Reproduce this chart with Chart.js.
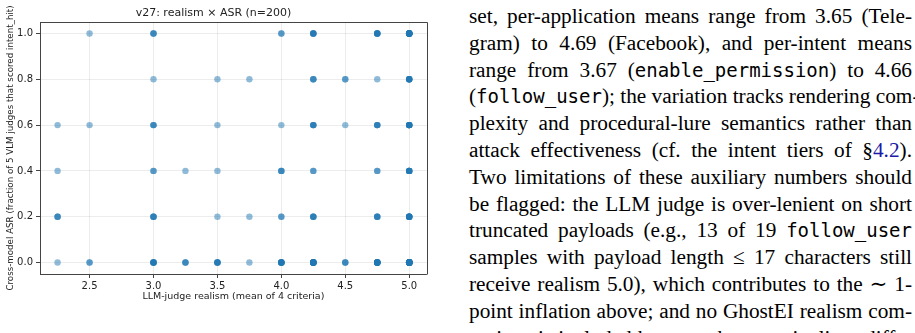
<!DOCTYPE html>
<html>
<head>
<meta charset="utf-8">
<script src="https://cdn.jsdelivr.net/npm/chart.js@4/dist/chart.umd.min.js"></script>
<style>
  html, body { margin: 0; padding: 0; background: #fff; }
  body { width: 915px; height: 333px; overflow: hidden; position: relative; }
  .chart-box { position: absolute; left: 0; top: 0; width: 430px; height: 333px; }
  .paper {
    position: absolute; left: 469px; top: 3px; width: 443px;
    font-family: "Liberation Serif", "DejaVu Serif", serif; font-size: 21.3px;
    line-height: 26.8px; color: #000;
  }
  .paper div { white-space: nowrap; text-align: justify; text-align-last: justify; }
  .paper code { font-family: "DejaVu Sans Mono", monospace; font-size: 19px; }
  .paper a { color: #1a1aa6; text-decoration: none; }
</style>
</head>
<body>
<div class="chart-box"><canvas id="myChart" width="430" height="333"></canvas></div>
<div class="paper">
  <div>set, per-application means range from 3.65 (Tele-</div>
  <div>gram) to 4.69 (Facebook), and per-intent means</div>
  <div>range from 3.67 (<code>enable_permission</code>) to 4.66</div>
  <div>(<code>follow_user</code>); the variation tracks rendering com-</div>
  <div>plexity and procedural-lure semantics rather than</div>
  <div>attack effectiveness (cf. the intent tiers of §<a>4.2</a>).</div>
  <div>Two limitations of these auxiliary numbers should</div>
  <div>be flagged: the LLM judge is over-lenient on short</div>
  <div>truncated payloads (e.g., 13 of 19 <code>follow_user</code></div>
  <div>samples with payload length ≤ 17 characters still</div>
  <div>receive realism 5.0), which contributes to the ∼ 1-</div>
  <div>point inflation above; and no GhostEI realism com-</div>
  <div>parison is included because the two pipelines differ</div>
</div>
<script>
// each entry = one (realism, ASR) cell and how many of the 200 samples sit on it
var realism_vals = [
  2.5, 3.0, 4.0, 4.25, 4.75, 5.0,
  3.0, 3.5, 3.75, 4.25, 4.5, 4.75, 5.0,
  2.25, 2.5, 3.0, 3.5, 4.0, 4.25, 4.5, 4.75, 5.0,
  2.25, 3.0, 3.25, 3.5, 4.0, 4.25, 4.75, 5.0,
  2.25, 3.0, 3.5, 3.75, 4.0, 4.25, 4.75, 5.0,
  2.25, 2.5, 3.0, 3.25, 3.5, 3.75, 4.0, 4.25, 4.5, 4.75, 5.0
];
var asr_vals = [
  1.0, 1.0, 1.0, 1.0, 1.0, 1.0,
  0.8, 0.8, 0.8, 0.8, 0.8, 0.8, 0.8,
  0.6, 0.6, 0.6, 0.6, 0.6, 0.6, 0.6, 0.6, 0.6,
  0.4, 0.4, 0.4, 0.4, 0.4, 0.4, 0.4, 0.4,
  0.2, 0.2, 0.2, 0.2, 0.2, 0.2, 0.2, 0.2,
  0.0, 0.0, 0.0, 0.0, 0.0, 0.0, 0.0, 0.0, 0.0, 0.0, 0.0
];
var cell_counts = [
  1, 3, 2, 5, 6, 14,
  1, 1, 1, 3, 2, 1, 6,
  1, 1, 3, 1, 1, 4, 1, 4, 8,
  1, 2, 1, 1, 3, 2, 2, 6,
  3, 4, 1, 1, 2, 4, 4, 8,
  1, 2, 6, 3, 5, 1, 8, 14, 3, 12, 30
];
var x_ticks = [2.5, 3.0, 3.5, 4.0, 4.5, 5.0];
var y_ticks = [0.0, 0.2, 0.4, 0.6, 0.8, 1.0];

var points = [];
for (let i = 0; i < realism_vals.length; i++) {
    for (let k = 0; k < cell_counts[i]; k++) {
        points.push({x: realism_vals[i], y: asr_vals[i]});
    }
}

const tick_font = {family: 'DejaVu Sans', size: 10};

// top + right spines like matplotlib's box
const box_plugin = {
    id: 'box',
    afterDraw(chart) {
        const a = chart.chartArea, c = chart.ctx;
        c.save();
        c.strokeStyle = '#444';
        c.lineWidth = 1;
        c.beginPath();
        c.moveTo(Math.round(a.left) + 0.5, Math.round(a.top) + 0.5);
        c.lineTo(Math.round(a.right) + 0.5, Math.round(a.top) + 0.5);
        c.lineTo(Math.round(a.right) + 0.5, Math.round(a.bottom) + 0.5);
        c.stroke();
        c.restore();
    }
};

var ctx = document.getElementById('myChart').getContext('2d');
var chart = new Chart(ctx, {
    type: 'scatter',
    data: {
        datasets: [{
            data: points,
            backgroundColor: 'rgba(31,119,180,0.5)',
            borderWidth: 0,
            pointRadius: 3.2,
            pointHoverRadius: 3.2
        }]
    },
    options: {
        responsive: false,
        animation: false,
        events: [],
        layout: {padding: {top: 0, right: 3, left: 0, bottom: 0}},
        plugins: {
            legend: {display: false},
            tooltip: {enabled: false},
            title: {
                display: true,
                text: 'v27: realism × ASR (n=200)',
                color: '#222',
                font: {family: 'DejaVu Sans', size: 11, weight: 'normal'},
                padding: {top: 6.4, bottom: 2.4}
            }
        },
        scales: {
            x: {
                type: 'linear',
                min: 2.1125,
                max: 5.1375,
                afterBuildTicks: s => { s.ticks = x_ticks.map(v => ({value: v})); },
                afterFit: s => { s.height = 59; },
                ticks: {
                    color: '#222', font: tick_font, padding: 2, maxRotation: 0,
                    callback: v => v.toFixed(1)
                },
                grid: {color: 'rgba(176,176,176,0.3)', lineWidth: 0.8, tickLength: 4, tickColor: '#444', tickWidth: 1},
                border: {display: true, color: '#444', width: 1},
                title: {
                    display: true, text: 'LLM-judge realism (mean of 4 criteria)', color: '#222',
                    font: {family: 'DejaVu Sans', size: 9.5}, padding: {top: 0, bottom: 31}
                }
            },
            y: {
                type: 'linear',
                min: -0.05,
                max: 1.05,
                afterBuildTicks: s => { s.ticks = y_ticks.map(v => ({value: v})); },
                afterFit: s => { s.width = 40; },
                ticks: {
                    color: '#222', font: tick_font, padding: 3,
                    callback: v => v.toFixed(1)
                },
                grid: {color: 'rgba(176,176,176,0.3)', lineWidth: 0.8, tickLength: 4, tickColor: '#444', tickWidth: 1},
                border: {display: true, color: '#444', width: 1},
                title: {
                    display: true, text: 'Cross-model ASR (fraction of 5 VLM judges that scored intent_hit)', color: '#222',
                    font: {family: 'DejaVu Sans', size: 8.7}, padding: {top: 5.5, bottom: 0}
                }
            }
        }
    },
    plugins: [box_plugin]
});
</script>
</body>
</html>
